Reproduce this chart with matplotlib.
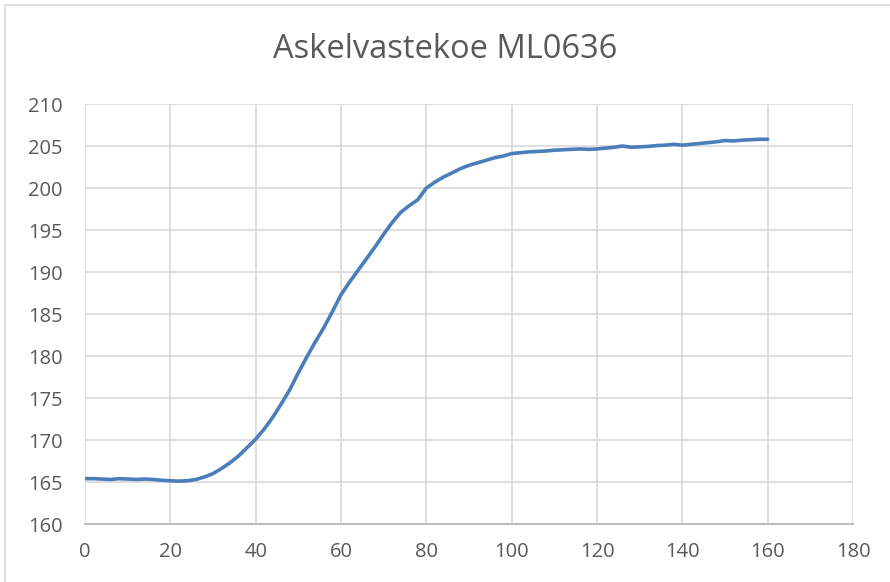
import matplotlib
matplotlib.use('Agg')
import matplotlib.pyplot as plt
from matplotlib.patches import Rectangle

plt.rcParams['font.family'] = ['Liberation Sans Narrow', 'Open Sans', 'DejaVu Sans']

# Askelvaste: aika (s) ja mitattu arvo
aika = list(range(0, 162, 2))
arvo = [
    165.4, 165.4, 165.35, 165.3, 165.4, 165.35, 165.3, 165.35, 165.3, 165.2,
    165.15, 165.1, 165.15, 165.3, 165.6, 166.0, 166.6, 167.3, 168.1, 169.1,
    170.1, 171.3, 172.7, 174.3, 176.0, 178.0, 179.9, 181.7, 183.4, 185.3,
    187.3, 188.8, 190.2, 191.6, 193.0, 194.5, 195.9, 197.1, 197.9, 198.6,
    200.0, 200.7, 201.3, 201.8, 202.3, 202.7, 203.0, 203.3, 203.6, 203.8,
    204.1, 204.2, 204.3, 204.35, 204.4, 204.5, 204.55, 204.6, 204.65, 204.6,
    204.65, 204.75, 204.85, 205.0, 204.85, 204.9, 204.95, 205.05, 205.1, 205.2,
    205.1, 205.2, 205.3, 205.4, 205.5, 205.65, 205.6, 205.7, 205.75, 205.8,
    205.8,
]
otsikko = 'Askelvastekoe ML0636'
x_ticks = list(range(0, 200, 20))
y_ticks = list(range(160, 215, 5))

fig = plt.figure(figsize=(8.9, 5.82), dpi=100)
# kaavion reunus
fig.patches.append(Rectangle((5 / 890, -0.05), 1.1, 1 - 5 / 582 + 0.05, transform=fig.transFigure,
                             fill=False, edgecolor='#D9D9D9', linewidth=1.2))

ax = fig.add_axes([85 / 890, 1 - 524 / 582, 768 / 890, 420 / 582])
ax.plot(aika, arvo, color='#4A7EBB', linewidth=2.6, solid_capstyle='round')

ax.set_xlim(0, 180)
ax.set_ylim(160, 210)
ax.set_xticks(x_ticks)
ax.set_yticks(y_ticks)
ax.grid(True, color='#D9D9D9', linewidth=1.2)
ax.set_axisbelow(True)
for side in ['top', 'right', 'left']:
    ax.spines[side].set_visible(False)
ax.spines['bottom'].set_color('#BFBFBF')
ax.spines['bottom'].set_linewidth(1.5)
ax.tick_params(length=0, labelsize=14.5, colors='#595959', pad=13)
ax.tick_params(axis='y', pad=16)

fig.text(0.5, 1 - 50 / 582, otsikko, ha='center', va='center', fontsize=23.5, color='#595959')

plt.savefig('out.png', dpi=100)
